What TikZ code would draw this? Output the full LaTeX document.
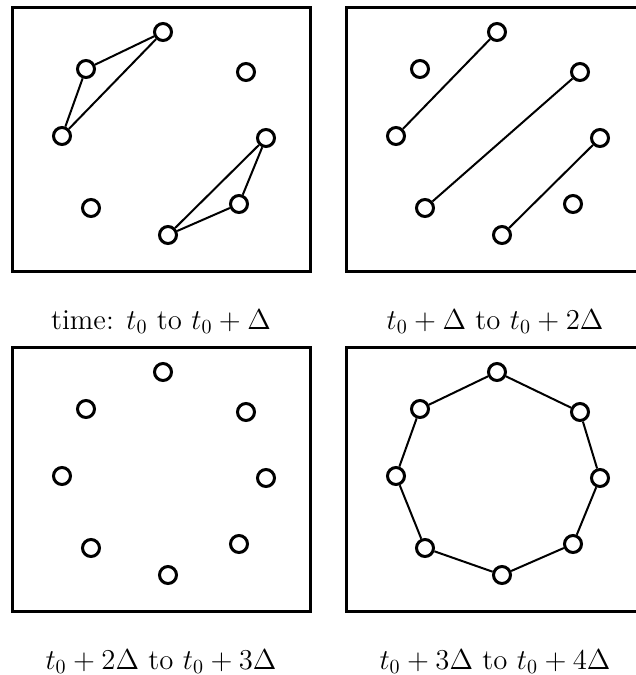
\documentclass[tikz,border=0pt]{standalone}
\begin{document}
\begin{tikzpicture}[x=0.5pt,y=-0.5pt,
    dot/.style={circle,draw,line width=1.5pt,fill=white,minimum size=8.5pt,inner sep=0pt},
    frame/.style={line width=1.5pt},
    link/.style={line width=1pt},
    caption/.style={anchor=base,font=\Large}]
  \useasboundingbox (0,0) rectangle (636,675);

  % four frames (the right ones run past the edge)
  \foreach \dx/\dy in {0/0,334/0,0/340,334/340}
    \draw[frame] (12+\dx,7+\dy) rectangle (310+\dx,271+\dy);

  % the eight points in every frame
  \foreach \p/\dx/\dy in {a/0/0,b/334/0,c/0/340,d/334/340}
    \foreach \i/\x/\y in {1/163/32,2/246/72,3/266/138,4/239/204,5/168/235,6/91/208,7/62/136,8/86/69}
      \node[dot] (\p\i) at (\x+\dx,\y+\dy) {};

  % frame a: two triangles
  \draw[link] (a8) -- (a1) -- (a7) -- (a8);
  \draw[link] (a3) -- (a4) -- (a5) -- (a3);

  % frame b: three segments
  \draw[link] (b7) -- (b1);
  \draw[link] (b6) -- (b2);
  \draw[link] (b5) -- (b3);

  % frame d: closed ring
  \draw[link] (d1) -- (d2) -- (d3) -- (d4) -- (d5) -- (d6) -- (d7) -- (d8) -- (d1);

  % captions
  \node[caption] (capa) at (161,329) {time: $t_0$ to $t_0+\Delta$};
  \node[caption] (capb) at (495,329) {$t_0+\Delta$ to $t_0+2\Delta$};
  \node[caption] (capc) at (161,669) {$t_0+2\Delta$ to $t_0+3\Delta$};
  \node[caption] (capd) at (495,669) {$t_0+3\Delta$ to $t_0+4\Delta$};
\end{tikzpicture}
\end{document}
